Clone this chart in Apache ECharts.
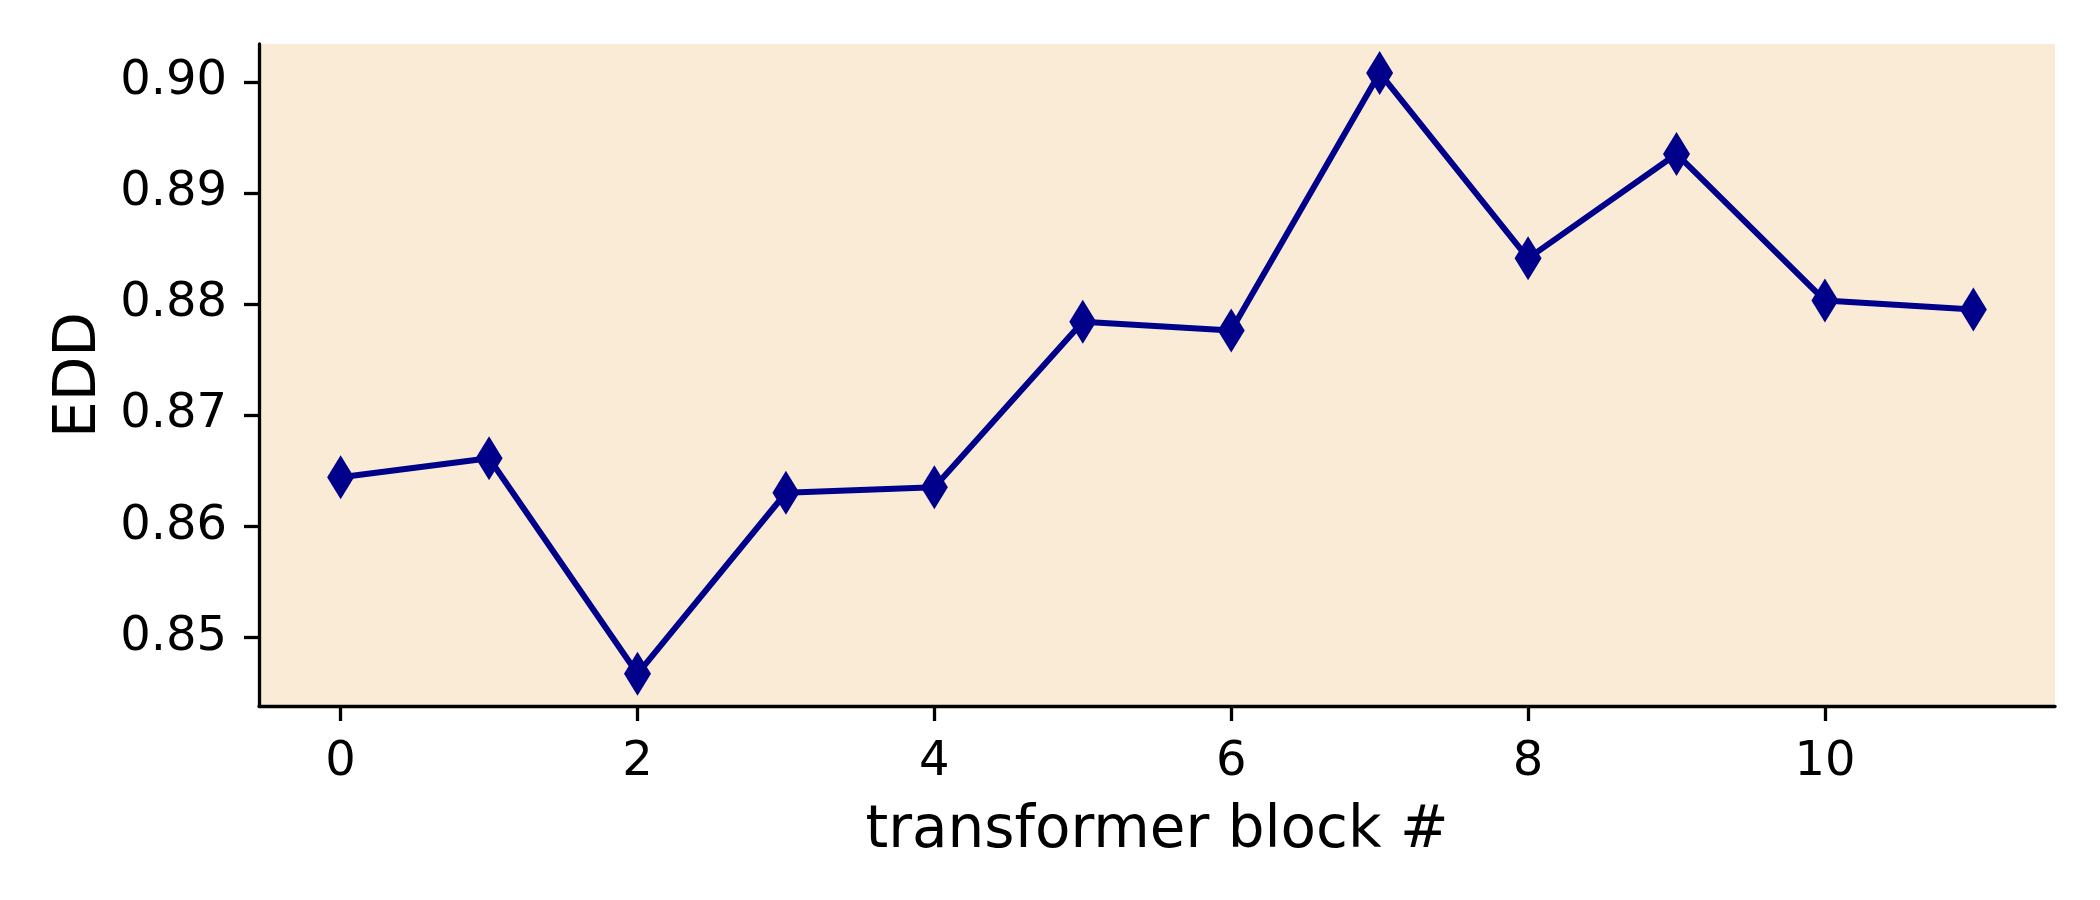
<!DOCTYPE html>
<html>
<head>
<meta charset="utf-8">
<script src="https://cdn.jsdelivr.net/npm/echarts@6/dist/echarts.min.js"></script>
<style>
  html, body { margin: 0; padding: 0; background: #ffffff; }
  #chart { width: 2100px; height: 900px; }
</style>
</head>
<body>
<div id="chart"></div>
<script>
// EDD per transformer block: thin-diamond markers joined by a navy line.

const blocks = [0, 1, 2, 3, 4, 5, 6, 7, 8, 9, 10, 11]
const eddValues = [0.8644, 0.8661, 0.8467, 0.8630, 0.8635, 0.8784, 0.8776, 0.9008, 0.8841, 0.8935, 0.8803, 0.8795]
const xTicks = [0, 2, 4, 6, 8, 10]
const yTicks = [0.85, 0.86, 0.87, 0.88, 0.89, 0.90]

const font = 'DejaVu Sans'
const ink = '#000000'
const navy = '#00008B'

const chart = echarts.init(document.getElementById('chart'), null, { renderer: 'canvas' })

chart.setOption({
  animation: false,
  backgroundColor: '#ffffff',
  grid: {
    left: 259, right: 45, top: 44, bottom: 194,
    show: true,
    backgroundColor: '#FAEBD7',
    borderWidth: 0,
  },
  xAxis: {
    type: 'value',
    min: -0.55,
    max: 11.55,
    name: 'transformer block #',
    nameLocation: 'middle',
    nameGap: 97,
    nameTextStyle: { fontFamily: font, fontSize: 58, color: ink },
    axisLine: { show: true, onZero: false, lineStyle: { color: ink, width: 3.3 } },
    axisTick: {
      show: true, length: 15, inside: false,
      customValues: xTicks,
      lineStyle: { color: ink, width: 3.3 },
    },
    axisLabel: {
      show: true, margin: 33,
      customValues: xTicks,
      fontFamily: font, fontSize: 48, color: ink,
      formatter: (v) => String(v),
    },
    splitLine: { show: false },
  },
  yAxis: {
    type: 'value',
    min: 0.8438,
    max: 0.9034,
    name: 'EDD',
    nameLocation: 'middle',
    nameGap: 148,
    nameTextStyle: { fontFamily: font, fontSize: 58, color: ink },
    axisLine: { show: true, onZero: false, lineStyle: { color: ink, width: 3.3 } },
    axisTick: {
      show: true, length: 15,
      customValues: yTicks,
      lineStyle: { color: ink, width: 3.3 },
    },
    axisLabel: {
      show: true, margin: 32,
      customValues: yTicks,
      fontFamily: font, fontSize: 48, color: ink,
      formatter: (v) => v.toFixed(2),
    },
    splitLine: { show: false },
  },
  series: [
    {
      type: 'line',
      data: blocks.map((b, i) => [b, eddValues[i]]),
      symbol: 'diamond',
      symbolSize: [27, 44],
      showAllSymbol: true,
      itemStyle: { color: navy, borderWidth: 0 },
      lineStyle: { color: navy, width: 6 },
      z: 3,
    },
  ],
})
</script>
</body>
</html>
